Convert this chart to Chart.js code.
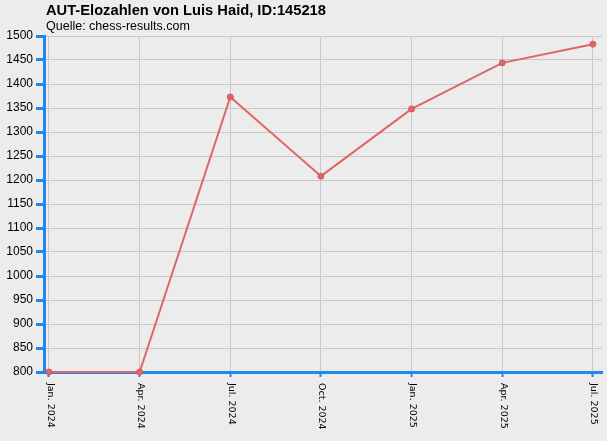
<!DOCTYPE html>
<html>
<head>
<meta charset="utf-8">
<script src="https://cdn.jsdelivr.net/npm/chart.js@4"></script>
<style>
  html, body { margin: 0; padding: 0; background: #ececec; }
  #wrap { width: 607px; height: 441px; }
</style>
</head>
<body>
<div id="wrap"><canvas id="eloChart" width="607" height="441"></canvas></div>
<script>
// Elo history of Luis Haid (AUT rating list)
const months = ['Jan. 2024', 'Apr. 2024', 'Jul. 2024', 'Oct. 2024', 'Jan. 2025', 'Apr. 2025', 'Jul. 2025'];
const elo = [800, 800, 1373, 1208, 1348, 1444, 1483];
const yTicks = [800, 1500, 50]; // min, max, step

const blue = '#1e88f0';
const red = '#e06666';

// titles and rotated month labels drawn on the canvas
const textPlugin = {
  id: 'textPlugin',
  afterDraw(chart) {
    const ctx = chart.ctx;
    const xs = chart.scales.x;
    ctx.save();
    ctx.fillStyle = '#000';
    ctx.textAlign = 'left';
    ctx.textBaseline = 'middle';
    ctx.font = 'bold 14.7px "Liberation Sans", Arial, sans-serif';
    ctx.fillText('AUT-Elozahlen von Luis Haid, ID:145218', 46, 11);
    ctx.font = '12.5px "Liberation Sans", Arial, sans-serif';
    ctx.fillText('Quelle: chess-results.com', 46, 27);
    ctx.font = '9.5px "DejaVu Sans", sans-serif';
    months.forEach((m, i) => {
      const x = xs.getPixelForValue(i);
      ctx.save();
      ctx.translate(x + 1, 383);
      ctx.rotate(Math.PI / 2);
      ctx.fillText(m, 0, 0);
      ctx.restore();
    });
    ctx.restore();
  }
};

new Chart(document.getElementById('eloChart').getContext('2d'), {
  type: 'line',
  data: {
    datasets: [{
      data: elo.map((v, i) => ({ x: i, y: v })),
      borderColor: red,
      borderWidth: 2,
      backgroundColor: red,
      pointRadius: 3,
      pointBackgroundColor: red,
      pointBorderColor: '#d45a5a',
      pointBorderWidth: 1,
      tension: 0,
      fill: false,
      clip: false
    }]
  },
  options: {
    responsive: false,
    animation: false,
    layout: { padding: { top: 36, right: 2, left: 0, bottom: 0 } },
    plugins: {
      legend: { display: false },
      tooltip: { enabled: false }
    },
    scales: {
      x: {
        type: 'linear',
        min: -0.055,
        max: 6.1,
        afterFit(scale) { scale.height = 69; },
        border: { color: blue, width: 3 },
        grid: { color: '#c8c8c8', lineWidth: 1, tickColor: blue, tickLength: 5, tickWidth: 2 },
        ticks: {
          stepSize: 1,
          includeBounds: false,
          maxRotation: 0,
          callback: () => ''
        }
      },
      y: {
        min: yTicks[0],
        max: yTicks[1],
        afterFit(scale) { scale.width = 44; },
        border: { color: blue, width: 3 },
        grid: { color: '#c8c8c8', lineWidth: 1, tickColor: blue, tickLength: 8, tickWidth: 3 },
        ticks: {
          stepSize: yTicks[2],
          color: '#000',
          padding: 3,
          callback: (v) => String(v),
          font: { family: '"Liberation Sans", Arial, sans-serif', size: 12 }
        }
      }
    }
  },
  plugins: [textPlugin]
});
</script>
</body>
</html>
